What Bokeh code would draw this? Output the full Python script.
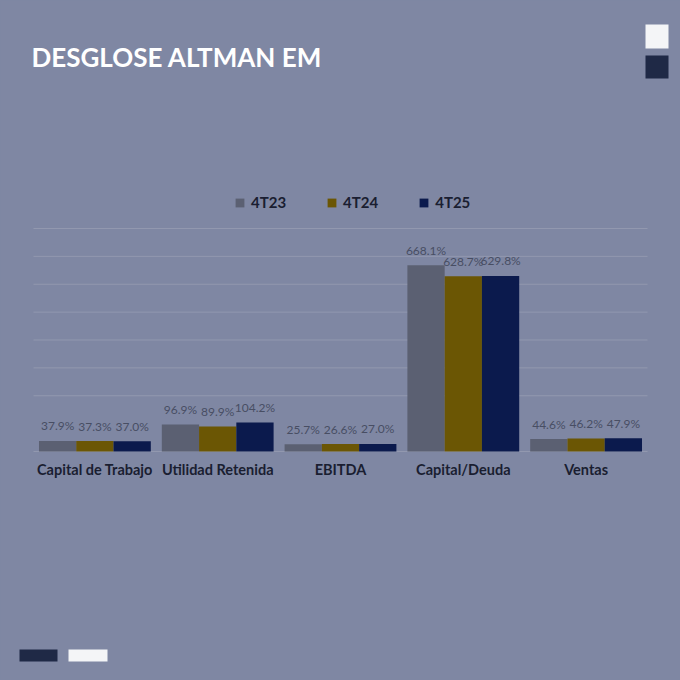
from bokeh.plotting import figure
from bokeh.models import (ColumnDataSource, FactorRange, Range1d, Legend, LegendItem,
                          Label, BoxAnnotation)
from bokeh.transform import dodge
from bokeh.core.properties import value
from bokeh.embed import file_html
from bokeh.resources import INLINE

# ---- data ----
categories = ["Capital de Trabajo", "Utilidad Retenida", "EBITDA", "Capital/Deuda", "Ventas"]
series_names = ["4T23", "4T24", "4T25"]
v_4t23 = [37.9, 96.9, 25.7, 668.1, 44.6]
v_4t24 = [37.3, 89.9, 26.6, 628.7, 46.2]
v_4t25 = [37.0, 104.2, 27.0, 629.8, 47.9]
grid_ticks = [0, 200, 300, 400, 500, 600, 700, 800]
title_text = "DESGLOSE ALTMAN EM"

# ---- style / layout ----
W = H = 680
BG = "#7f87a3"
GRID = "#9298af"
COLORS = ["#5b6072", "#6b5604", "#0b1a4d"]
DARK = "#1a1e31"
LABEL_GRAY = "#484e63"
FONT = "Lato"

# plot area in canvas pixels (top-down): value 0 at y=451, value 800 at y=228
Y0_PX, YTOP_PX, YTOP_VAL = 451.0, 228.0, 800.0
units_per_px = YTOP_VAL / (Y0_PX - YTOP_PX)
y_min = -(H - Y0_PX) * units_per_px
y_max = Y0_PX * units_per_px
side_pad_px = 33.0
cat_px = (W - 2 * side_pad_px) / len(categories)
range_pad = 2 * side_pad_px / (cat_px * len(categories))

src = ColumnDataSource(dict(
    cat=categories,
    s0=v_4t23, s1=v_4t24, s2=v_4t25,
    t0=[f"{v:.1f}%" for v in v_4t23],
    t1=[f"{v:.1f}%" for v in v_4t24],
    t2=[f"{v:.1f}%" for v in v_4t25],
))

p = figure(width=W, height=H,
           x_range=FactorRange(*categories, range_padding=range_pad),
           y_range=Range1d(y_min, y_max),
           output_backend="svg", toolbar_location=None,
           min_border=0)
p.background_fill_color = BG
p.border_fill_color = BG
p.outline_line_color = None
p.xaxis.visible = False
p.yaxis.visible = False
p.grid.visible = False

# horizontal grid lines across the category span
p.segment(x0=0, x1=len(categories), y0=grid_ticks, y1=grid_ticks,
          line_color=GRID, line_width=1)

bw = 0.3035
offsets = [-bw, 0.0, bw]
renderers = []
for i in range(3):
    r = p.vbar(x=dodge("cat", offsets[i], range=p.x_range), top=f"s{i}", width=bw,
               source=src, fill_color=COLORS[i], line_color=None)
    renderers.append(r)
    p.text(x=dodge("cat", offsets[i], range=p.x_range), y=f"s{i}", text=f"t{i}",
           source=src, text_align="center", text_baseline="alphabetic", y_offset=-15,
           text_font=value(FONT), text_font_size="12px", text_color=LABEL_GRAY)

# category labels
p.text(x="cat", y=0, text="cat", source=src, text_align="center",
       text_baseline="alphabetic", y_offset=18,
       text_font=value(FONT), text_font_style="bold", text_font_size="14.5px",
       text_color=DARK)

# legend
legend = Legend(items=[LegendItem(label=series_names[i], renderers=[renderers[i]]) for i in range(3)],
                orientation="horizontal", location=(234, 469),
                glyph_width=11, glyph_height=11, label_standoff=6, spacing=40,
                padding=0, margin=0, border_line_color=None, background_fill_alpha=0,
                label_text_font=FONT, label_text_font_style="bold",
                label_text_font_size="15px", label_text_color=DARK,
                label_height=11, label_text_baseline="middle")
p.add_layout(legend)

# title
p.add_layout(Label(x=31, y=624, x_units="screen", y_units="screen", text=title_text,
                   text_font=FONT, text_font_style="bold", text_font_size="26px",
                   text_color="white", text_baseline="alphabetic"))

# decorative blocks
def deco(l, r, t, b, c):
    p.add_layout(BoxAnnotation(left=l, right=r, top=t, bottom=b,
                               left_units="screen", right_units="screen",
                               top_units="screen", bottom_units="screen",
                               fill_color=c, fill_alpha=1, line_color=None))

deco(645, 668, 656, 632, "#f4f5f7")
deco(645, 668, 625, 602, "#1f2946")
deco(19, 57, 31, 19, "#1f2946")
deco(68, 107, 31, 19, "#f4f5f7")

tmpl = "{% block preamble %}<style>html,body{background:#7f87a3;}</style>{% endblock %}"
open("out.html", "w").write(file_html(p, INLINE, template=tmpl))
